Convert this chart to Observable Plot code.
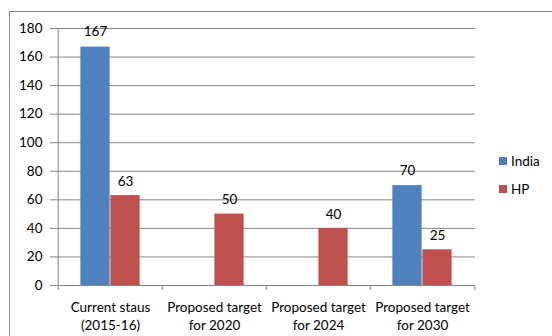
<!DOCTYPE html>
<html><head><meta charset="utf-8">
<script src="https://cdn.jsdelivr.net/npm/d3@7"></script>
<script src="https://cdn.jsdelivr.net/npm/@observablehq/plot@0.6"></script>
<style>
html,body{margin:0;padding:0;background:#fff;overflow:hidden}
#wrap{position:relative;width:552px;height:336px;overflow:hidden;font-family:Lato,sans-serif;background:#fff}
#border{position:absolute;left:9px;top:11px;width:600px;height:400px;border:1px solid #878787;box-sizing:border-box}
#chart{position:absolute;left:0;top:0}
#legend{position:absolute;left:499px;top:154px;font:13.5px Lato,sans-serif;color:#000}
#legend .item{display:flex;align-items:center;height:14px;margin-bottom:14px}
#legend .sw{width:8px;height:8px;margin-right:4px}
g[aria-label^="y-axis"] line, g[aria-label^="y-axis"] path{stroke:#878787}
g[aria-label^="y-axis"] text{fill:#000}
</style></head><body>
<div id="wrap"><div id="border"></div><div id="chart"></div><div id="legend"></div></div>
<script>
const categories = ["Current staus\n(2015-16)", "Proposed target\nfor 2020", "Proposed target\nfor 2024", "Proposed target\nfor 2030"];
const series = ["India", "HP"];
const indiaValues = [167, null, null, 70];
const hpValues = [63, 50, 40, 25];
const colors = ["#4F81BD", "#C0504D"];
const yTicks = [0, 20, 40, 60, 80, 100, 120, 140, 160, 180];

const W = 552, H = 336, mL = 56, mR = 77, mT = 28, mB = 51;
const half = (W - mL - mR) / categories.length / 2;
const barW = 30;
const grey = "#878787";

const india = categories.map((c, i) => ({category: c, value: indiaValues[i]})).filter(d => d.value != null);
const hp = categories.map((c, i) => ({category: c, value: hpValues[i]})).filter(d => d.value != null);

const chart = Plot.plot({
  width: W, height: H,
  marginLeft: mL, marginRight: mR, marginTop: mT, marginBottom: mB,
  style: {background: "transparent", fontFamily: "Lato, sans-serif", fontSize: "13.5px", color: "#000"},
  x: {domain: categories, padding: 0, axis: null},
  y: {domain: [0, 180], ticks: yTicks, tickSize: 6, tickPadding: 8, label: null, tickFormat: d => String(d)},
  marks: [
    Plot.ruleY(yTicks, {y: d => d, stroke: grey, strokeWidth: 1}),
    Plot.ruleX([categories[0]], {x: d => d, y1: 0, y2: 180, dx: -half, stroke: grey}),
    Plot.ruleX(categories, {x: d => d, y1: 0, y2: 0, insetBottom: -5, dx: -half, stroke: grey}),
    Plot.ruleX([categories[categories.length - 1]], {x: d => d, y1: 0, y2: 0, insetBottom: -5, dx: half, stroke: grey}),
    Plot.barY(india, {x: "category", y: "value", fill: colors[0], insetLeft: half - barW, insetRight: half}),
    Plot.barY(hp, {x: "category", y: "value", fill: colors[1], insetLeft: half, insetRight: half - barW}),
    Plot.text(india, {x: "category", y: "value", text: d => String(d.value), dx: -barW / 2, dy: -15, fill: "#000", fontSize: 13.5}),
    Plot.text(hp, {x: "category", y: "value", text: d => String(d.value), dx: barW / 2, dy: -14, fill: "#000", fontSize: 13.5}),
    Plot.text(categories, {x: d => d, frameAnchor: "bottom", text: d => d, dy: 30, lineAnchor: "middle", lineHeight: 1.35, fill: "#000", fontSize: 13.5})
  ]
});
document.getElementById("chart").appendChild(chart);

const legend = document.getElementById("legend");
series.forEach((s, i) => {
  const item = document.createElement("div");
  item.className = "item";
  const sw = document.createElement("div");
  sw.className = "sw";
  sw.style.background = colors[i];
  const label = document.createElement("span");
  label.textContent = s;
  item.appendChild(sw);
  item.appendChild(label);
  legend.appendChild(item);
});
</script>
</body></html>
